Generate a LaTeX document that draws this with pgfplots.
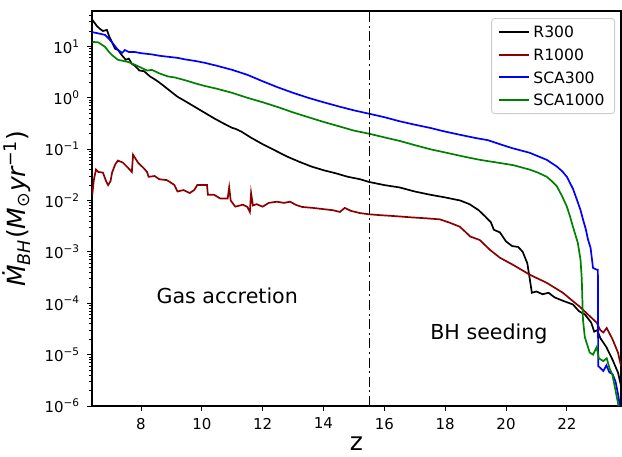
\documentclass[border=0pt]{standalone}
\usepackage{fontspec}
\setmainfont{DejaVu Sans}
\usepackage{pgfplots}
\pgfplotsset{compat=1.18}
\definecolor{mdarkred}{RGB}{139,0,0}
\definecolor{mblue}{RGB}{0,0,255}
\definecolor{mgreen}{RGB}{0,128,0}
\begin{document}
\begin{tikzpicture}
\begin{axis}[
  scale only axis,
  width=264.5pt, height=197.5pt,
  xmin=6.39, xmax=23.78,
  ymode=log, ymin=1e-6, ymax=49,
  xtick={8,10,12,14,16,18,20,22},
  ytick={1e-6,1e-5,1e-4,1e-3,1e-2,1e-1,1,10},
  yticklabels={10\textsuperscript{−6},10\textsuperscript{−5},10\textsuperscript{−4},10\textsuperscript{−3},10\textsuperscript{−2},10\textsuperscript{−1},10\textsuperscript{0},10\textsuperscript{1}},
  minor ytick={2e-6,3e-6,4e-6,5e-6,6e-6,7e-6,8e-6,9e-6,
               2e-5,3e-5,4e-5,5e-5,6e-5,7e-5,8e-5,9e-5,
               2e-4,3e-4,4e-4,5e-4,6e-4,7e-4,8e-4,9e-4,
               2e-3,3e-3,4e-3,5e-3,6e-3,7e-3,8e-3,9e-3,
               2e-2,3e-2,4e-2,5e-2,6e-2,7e-2,8e-2,9e-2,
               0.2,0.3,0.4,0.5,0.6,0.7,0.8,0.9,
               2,3,4,5,6,7,8,9,20,30,40},
  /pgf/number format/assume math mode=true,
  tick align=outside,
  xtick pos=bottom, ytick pos=left,
  major tick length=2.4pt, minor tick length=1.4pt,
  every tick/.style={black, line width=0.45pt},
  axis line style={line width=0.55pt},
  tick label style={font=\fontsize{7.5}{9}\selectfont},
  xlabel={z},
  xlabel style={yshift=3pt},
  ylabel={\itshape Ṁ\textsubscript{BH}\textup{(}M\textsubscript{\textup{⊙}}yr\textsuperscript{\textup{−1}}\textup{)}},
  label style={font=\fontsize{12.5}{14}\selectfont},
  legend cell align=left,
  legend style={at={(1,1)}, anchor=north east, xshift=-3pt, yshift=-3.5pt,
    draw=black!20, rounded corners=1.5pt, fill=white, fill opacity=0.8, text opacity=1,
    font=\fontsize{7.8}{9.4}\selectfont, row sep=1.6pt,
    nodes={text height=5.7pt, text depth=0pt, inner sep=2pt}},
  legend image code/.code={\draw[#1, line width=0.9pt, draw opacity=1] (0pt,0pt) -- (15pt,0pt);},
  every axis plot/.append style={line width=0.85pt, mark=none},
]
\addplot[black] coordinates {
(6.40,33)(6.55,25)(6.65,22)(6.75,20)(6.88,21)(6.95,16)(7.05,12)(7.15,9)(7.25,8.5)(7.35,7)
(7.5,5.5)(7.6,5.8)(7.7,4.6)(7.8,4.2)(7.95,3.4)(8.1,3.3)(8.3,2.6)(8.5,2.2)(8.7,1.8)(9.0,1.3)
(9.2,1.05)(9.5,0.83)(9.8,0.65)(10.1,0.51)(10.4,0.40)(10.7,0.32)(11.0,0.26)(11.1,0.25)(11.3,0.22)(11.6,0.17)
(12.0,0.125)(12.4,0.095)(12.8,0.072)(13.2,0.057)(13.6,0.046)(14.0,0.039)(14.4,0.034)(14.8,0.029)(15.2,0.026)(15.5,0.023)
(16.0,0.020)(16.5,0.018)(17.0,0.015)(17.5,0.013)(18.0,0.0115)(18.5,0.0100)(18.8,0.0085)(19.1,0.0065)(19.3,0.0050)(19.5,0.0038)
(19.6,0.0027)(19.8,0.0024)(20.0,0.0016)(20.2,0.0013)(20.4,0.00125)(20.55,0.0010)(20.7,0.0006)(20.78,0.0003)(20.85,0.00016)(21.0,0.00017)
(21.2,0.00015)(21.4,0.00016)(21.6,0.00013)(21.9,0.00011)(22.2,0.000095)(22.4,0.00007)(22.6,0.00006)(22.8,0.000042)(22.9,0.000028)(23.0,0.00003)
(23.1,0.000021)(23.3,0.000014)(23.5,0.000008)(23.68,0.0000045)(23.78,0.0000025)
};
\addlegendentry{R300}
\addplot[mdarkred] coordinates {
(6.40,0.013)(6.45,0.025)(6.52,0.04)(6.6,0.036)(6.75,0.035)(6.85,0.024)(6.92,0.02)(7.0,0.024)(7.05,0.035)(7.15,0.05)
(7.24,0.06)(7.4,0.055)(7.55,0.045)(7.7,0.036)(7.74,0.078)(7.9,0.055)(8.1,0.042)(8.2,0.036)(8.25,0.029)(8.45,0.030)
(8.6,0.026)(8.85,0.025)(8.95,0.023)(9.1,0.020)(9.2,0.015)(9.4,0.016)(9.6,0.014)(9.75,0.016)(9.85,0.020)(10.17,0.020)
(10.2,0.013)(10.4,0.013)(10.6,0.011)(10.85,0.011)(10.9,0.018)(10.95,0.010)(11.1,0.0076)(11.35,0.0083)(11.5,0.0075)(11.58,0.006)
(11.62,0.014)(11.68,0.008)(11.8,0.0085)(12.0,0.0076)(12.2,0.0090)(12.47,0.0095)(12.7,0.0090)(12.9,0.0095)(13.1,0.0082)(13.3,0.0075)
(13.65,0.0072)(14.0,0.0068)(14.3,0.0065)(14.54,0.006)(14.7,0.0072)(14.9,0.0063)(15.2,0.0057)(15.5,0.0054)(15.85,0.0052)(16.3,0.0050)
(16.9,0.0047)(17.4,0.0045)(17.83,0.0043)(18.15,0.0037)(18.48,0.0031)(18.65,0.0025)(18.82,0.0020)(19.14,0.0017)(19.47,0.0011)(19.8,0.00077)
(20.23,0.00056)(20.78,0.00036)(21.34,0.00025)(21.87,0.00016)(22.2,0.00011)(22.43,0.000085)(22.7,0.00006)(22.98,0.000042)(23.1,0.00003)(23.2,0.000027)
(23.31,0.000033)(23.5,0.00002)(23.68,0.000011)(23.78,0.000006)
};
\addlegendentry{R1000}
\addplot[mblue] coordinates {
(6.40,19)(6.59,18)(6.82,16.8)(6.95,14)(7.05,12)(7.24,8.6)(7.38,7.5)(7.47,8.5)(7.6,7.8)(7.8,7.8)
(8.0,7.4)(8.36,7.0)(8.6,6.6)(8.89,6.3)(9.2,6.0)(9.45,5.6)(9.8,5.2)(10.1,4.8)(10.5,4.2)(11.0,3.5)
(11.5,2.8)(12.0,2.1)(12.5,1.6)(13.0,1.25)(13.5,1.0)(14.0,0.82)(14.5,0.68)(15.0,0.57)(15.5,0.49)(16.0,0.42)
(16.5,0.35)(17.0,0.30)(17.5,0.26)(18.0,0.22)(18.5,0.19)(19.0,0.165)(19.4,0.15)(19.8,0.125)(20.2,0.105)(20.78,0.085)
(21.34,0.062)(21.67,0.046)(21.85,0.037)(22.0,0.029)(22.2,0.017)(22.33,0.0104)(22.45,0.0065)(22.53,0.0043)(22.62,0.0028)(22.7,0.0017)
(22.78,0.0012)(22.86,0.00049)(22.98,0.00045)(23.02,0.00045)(23.03,0.000006)(23.1,0.0000055)(23.2,0.0000048)(23.3,0.0000062)(23.4,0.0000045)(23.5,0.0000042)
(23.6,0.000003)(23.7,0.0000015)(23.74,0.000001)
};
\addlegendentry{SCA300}
\addplot[mgreen] coordinates {
(6.40,12.3)(6.6,12)(6.82,9.8)(6.95,7.8)(7.05,6.8)(7.24,5.5)(7.57,5.0)(7.8,4.4)(8.03,3.8)(8.2,3.4)
(8.36,3.5)(8.6,3.0)(8.89,2.6)(9.1,2.5)(9.45,2.2)(9.8,1.9)(10.1,1.7)(10.5,1.5)(11.0,1.25)(11.5,1.0)
(12.0,0.82)(12.5,0.66)(13.0,0.52)(13.5,0.42)(14.0,0.34)(14.5,0.28)(15.0,0.23)(15.5,0.2)(16.0,0.17)(16.5,0.145)
(17.0,0.12)(17.5,0.10)(18.05,0.085)(18.6,0.072)(19.14,0.062)(19.7,0.055)(20.23,0.049)(20.78,0.04)(21.05,0.035)(21.34,0.029)
(21.5,0.024)(21.67,0.019)(21.85,0.012)(22.0,0.0076)(22.1,0.005)(22.2,0.0031)(22.36,0.0015)(22.45,0.0007)(22.49,0.0003)(22.53,0.000048)
(22.59,0.000022)(22.75,0.000011)(22.86,0.000010)(22.98,0.000014)(23.05,0.0000085)(23.2,0.0000075)(23.31,0.0000085)(23.4,0.0000055)(23.5,0.000004)(23.6,0.000002)
(23.7,0.000001)
};
\addlegendentry{SCA1000}
\addplot[black, line width=0.6pt, dash pattern=on 5pt off 1.8pt on 1pt off 1.8pt, forget plot] coordinates {(15.5,1e-6)(15.5,49)};
\node[anchor=base west, font=\fontsize{10.3}{12}\selectfont, inner sep=0pt] at (axis cs:8.5,1e-4) {Gas accretion};
\node[anchor=base west, font=\fontsize{10.3}{12}\selectfont, inner sep=0pt] at (axis cs:17.5,2e-5) {BH seeding};
\end{axis}
\pgfresetboundingbox
\path[use as bounding box] (-46pt,-25pt) rectangle (265pt,203pt);
\end{tikzpicture}
\end{document}
